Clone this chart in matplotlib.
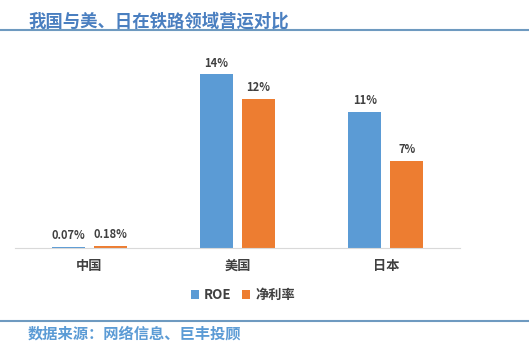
import numpy as np
import matplotlib.pyplot as plt
from matplotlib.lines import Line2D

plt.rcParams['font.family'] = ['Noto Sans CJK SC', 'DejaVu Sans']

# data
countries = ['中国', '美国', '日本']
roe = [0.07, 14, 11]
net_margin = [0.18, 12, 7]
roe_labels = ['0.07%', '14%', '11%']
net_labels = ['0.18%', '12%', '7%']

W, H = 529, 354
fig = plt.figure(figsize=(W / 100, H / 100), dpi=100)
ax = fig.add_axes([15 / W, 1 - 248 / H, 445 / W, 208 / H])

x = np.arange(len(countries))
bw = 0.223
off = 0.142
b1 = ax.bar(x - off, roe, bw, color='#5b9bd5', label='ROE')
b2 = ax.bar(x + off, net_margin, bw, color='#ed7d31', label='净利率')

for bars, labs in ((b1, roe_labels), (b2, net_labels)):
    for r, t in zip(bars, labs):
        ax.annotate(t, (r.get_x() + r.get_width() / 2, r.get_height()),
                    xytext=(0, 3.5), textcoords='offset points',
                    ha='center', va='bottom', fontsize=8, fontweight='bold',
                    color='#404040')

ax.set_xlim(-0.5, 2.5)
ax.set_ylim(0, 208 / 12.4)
ax.set_xticks(x)
ax.set_xticklabels(countries, fontsize=9.5, fontweight='bold', color='#404040')
ax.tick_params(axis='x', length=0, pad=8)
ax.set_yticks([])
for s in ('top', 'right', 'left'):
    ax.spines[s].set_visible(False)
ax.spines['bottom'].set_color('#d9d9d9')

leg = fig.legend(handles=[b1, b2], loc='center', bbox_to_anchor=(243 / W, 1 - 295 / H),
                 ncol=2, frameon=False, fontsize=9.5, handlelength=0.6, handleheight=0.6,
                 columnspacing=0.8, handletextpad=0.4)
for t in leg.get_texts():
    t.set_color('#404040')
    t.set_fontweight('bold')

# header / footer
fig.text(28 / W, 1 - 22 / H, '我国与美、日在铁路领域营运对比', fontsize=12.5,
         color='#4a7fc0', va='center', ha='left', fontweight='bold')
fig.add_artist(Line2D([0, 1], [1 - 29.5 / H] * 2, color='#6e9ac0', lw=1.5))
fig.text(28 / W, 1 - 333 / H, '数据来源：网络信息、巨丰投顾', fontsize=11,
         color='#5b9bd5', va='center', ha='left', fontweight='bold')
fig.add_artist(Line2D([0, 1], [1 - 321 / H] * 2, color='#6e9ac0', lw=1.5))

fig.savefig('out.png', dpi=100)
